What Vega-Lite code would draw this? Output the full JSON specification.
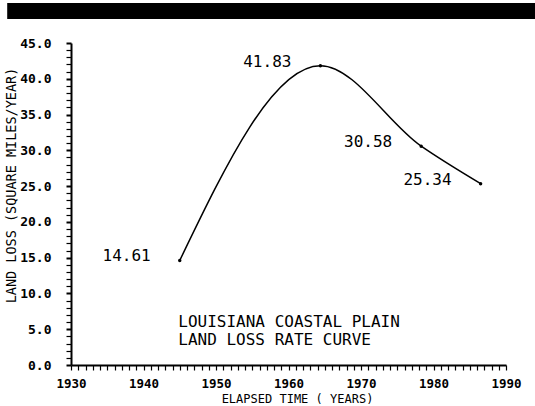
{
  "$schema": "https://vega.github.io/schema/vega-lite/v6.json",
  "width": 435,
  "height": 322,
  "autosize": "none",
  "padding": {"left": 71, "top": 43, "right": 29, "bottom": 41},
  "background": "white",
  "config": {"view": {"stroke": null}, "font": "DejaVu Sans Mono"},
  "data": {"values": [
    {"year": 1945, "rate": 14.61},
    {"year": 1964.4, "rate": 41.83},
    {"year": 1978.3, "rate": 30.58},
    {"year": 1986.5, "rate": 25.34}
  ]},
  "layer": [
    {
      "mark": {"type": "line", "interpolate": "monotone", "color": "black", "strokeWidth": 1.5},
      "encoding": {
        "x": {
          "field": "year", "type": "quantitative",
          "scale": {"domain": [1930, 1990], "nice": false, "zero": false},
          "axis": {
            "values": [1930,1931,1932,1933,1934,1935,1936,1937,1938,1939,1940,1941,1942,1943,1944,1945,1946,1947,1948,1949,1950,1951,1952,1953,1954,1955,1956,1957,1958,1959,1960,1961,1962,1963,1964,1965,1966,1967,1968,1969,1970,1971,1972,1973,1974,1975,1976,1977,1978,1979,1980,1981,1982,1983,1984,1985,1986,1987,1988,1989,1990],
            "tickCount": 500,
            "format": "d",
            "labelExpr": "datum.value % 10 === 0 ? datum.label : ''",
            "labelOverlap": false,
            "labelFlush": false,
            "labelFont": "DejaVu Sans Mono",
            "labelFontSize": 12.5,
            "labelFontWeight": "bold",
            "labelColor": "black",
            "labelPadding": 7,
            "tickSize": 5,
            "tickColor": "black",
            "tickWidth": 1.2,
            "domainColor": "black",
            "domainWidth": 2,
            "grid": false,
            "title": "ELAPSED TIME ( YEARS)",
            "titleFont": "DejaVu Sans Mono",
            "titleFontSize": 12,
            "titleFontWeight": "normal",
            "titleColor": "black",
            "titleX": 226,
            "titleY": 37,
            "titleBaseline": "alphabetic"
          }
        },
        "y": {
          "field": "rate", "type": "quantitative",
          "scale": {"domain": [0, 45], "nice": false},
          "axis": {
            "values": [0,1,2,3,4,5,6,7,8,9,10,11,12,13,14,15,16,17,18,19,20,21,22,23,24,25,26,27,28,29,30,31,32,33,34,35,36,37,38,39,40,41,42,43,44,45],
            "tickCount": 500,
            "labelExpr": "datum.value % 5 === 0 ? format(datum.value, '.1f') : ''",
            "labelOverlap": false,
            "labelFlush": false,
            "labelFont": "DejaVu Sans Mono",
            "labelFontSize": 13,
            "labelFontWeight": "bold",
            "labelColor": "black",
            "labelPadding": 15,
            "tickSize": 5,
            "tickColor": "black",
            "tickWidth": {"condition": {"test": "datum.value % 5 === 0", "value": 2}, "value": 1.2},
            "domainColor": "black",
            "domainWidth": 2,
            "grid": false,
            "title": "LAND LOSS (SQUARE MILES/YEAR)",
            "titleFont": "DejaVu Sans Mono",
            "titleFontSize": 13.5,
            "titleFontWeight": "normal",
            "titleColor": "black",
            "titleX": -60,
            "titleY": 142,
            "titleAlign": "center",
            "titleBaseline": "middle"
          }
        }
      }
    },
    {
      "mark": {"type": "point", "filled": true, "color": "black", "size": 12, "opacity": 1},
      "encoding": {
        "x": {"field": "year", "type": "quantitative"},
        "y": {"field": "rate", "type": "quantitative"}
      }
    },
    {
      "mark": {"type": "text", "align": "right", "baseline": "middle", "dx": -29, "dy": -4, "fontSize": 16, "font": "DejaVu Sans Mono", "color": "black"},
      "encoding": {
        "x": {"field": "year", "type": "quantitative"},
        "y": {"field": "rate", "type": "quantitative"},
        "text": {"field": "rate", "type": "quantitative", "format": ".2f"}
      }
    },
    {
      "data": {"values": [{}]},
      "mark": {"type": "text", "text": ["LOUISIANA COASTAL PLAIN", "LAND LOSS RATE CURVE"], "align": "left", "baseline": "middle", "fontSize": 16, "lineHeight": 18, "font": "DejaVu Sans Mono", "color": "black"},
      "encoding": {
        "x": {"datum": 1944.8, "type": "quantitative"},
        "y": {"datum": 5.94, "type": "quantitative"}
      }
    },
    {
      "data": {"values": [{}]},
      "mark": {"type": "rect", "color": "black", "clip": false},
      "encoding": {
        "x": {"datum": 1921.2, "type": "quantitative"},
        "x2": {"datum": 1994.0},
        "y": {"datum": 48.35, "type": "quantitative"},
        "y2": {"datum": 50.6}
      }
    }
  ]
}
